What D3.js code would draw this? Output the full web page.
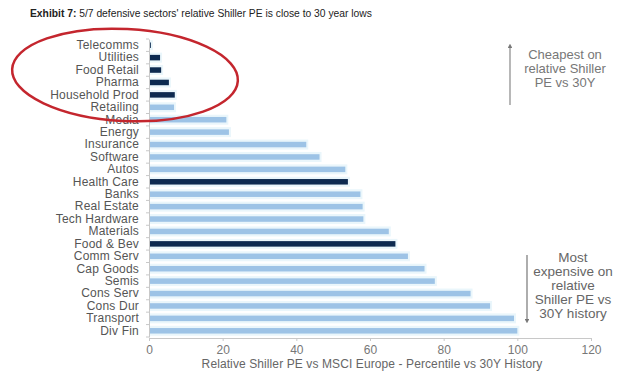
<!DOCTYPE html>
<html>
<head>
<meta charset="utf-8">
<script src="https://cdn.jsdelivr.net/npm/d3@7"></script>
<style>
  body { margin: 0; background: #fff; }
  svg { display: block; font-family: "Liberation Sans", Arial, sans-serif; }
</style>
</head>
<body>
<div id="chart"></div>
<script>
// sectors, top (cheapest) to bottom (most expensive)
const sectors = ["Telecomms", "Utilities", "Food Retail", "Pharma", "Household Prod", "Retailing",
  "Media", "Energy", "Insurance", "Software", "Autos", "Health Care", "Banks", "Real Estate",
  "Tech Hardware", "Materials", "Food & Bev", "Comm Serv", "Cap Goods", "Semis", "Cons Serv",
  "Cons Dur", "Transport", "Div Fin"];
const percentile = [0.5, 3.0, 3.3, 5.4, 7.0, 6.8, 21.0, 21.7, 42.7, 46.3, 53.3, 54.0, 57.4, 58.0,
  58.2, 65.1, 66.9, 70.3, 74.8, 77.6, 87.3, 92.6, 99.1, 100];
const defensive = ["Telecomms", "Utilities", "Food Retail", "Pharma", "Household Prod", "Health Care", "Food & Bev"];
const xTicks = [0, 20, 40, 60, 80, 100, 120];

const data = sectors.map((s, i) => ({ sector: s, value: percentile[i] }));

const width = 623, height = 371;
const svg = d3.select("#chart").append("svg")
  .attr("width", width)
  .attr("height", height);

// scales
const x = d3.scaleLinear().domain([0, 120]).range([149, 591]);
const y = d3.scaleBand().domain(sectors).range([39, 337]);

// title
const title = svg.append("text")
  .attr("x", 30)
  .attr("y", 17)
  .style("font-size", "10.3px")
  .style("fill", "#222");
title.append("tspan").style("font-weight", "bold").text("Exhibit 7: ");
title.append("tspan").text(" 5/7 defensive sectors' relative Shiller PE is close to 30 year lows");

// pale halo behind the bars
svg.selectAll(".halo")
  .data(data)
  .enter()
  .append("rect")
  .attr("class", "halo")
  .attr("x", x(0))
  .attr("y", d => y(d.sector) + y.bandwidth() / 2 - 5)
  .attr("width", d => x(d.value) - x(0) + 2)
  .attr("height", 10)
  .attr("fill", "#eaf6fb");

// bars
svg.selectAll(".bar")
  .data(data)
  .enter()
  .append("rect")
  .attr("class", "bar")
  .attr("x", x(0))
  .attr("y", d => y(d.sector) + y.bandwidth() / 2 - 2.75)
  .attr("width", d => x(d.value) - x(0))
  .attr("height", 5.5)
  .attr("fill", d => defensive.includes(d.sector) ? "#0d2a50" : "#9dc3e6");

// y axis
const yAxis = svg.append("g")
  .attr("transform", `translate(${x(0)},0)`)
  .call(d3.axisLeft(y).tickSize(0).tickPadding(10));
yAxis.select(".domain").attr("stroke", "#c8c8c8");
yAxis.selectAll("text")
  .style("font-size", "12px")
  .style("letter-spacing", "0.2px")
  .style("fill", "#555")
  .style("font-family", "'Liberation Sans', Arial, sans-serif");
// small tick marks between categories
svg.selectAll(".ytick")
  .data(sectors.concat(["end"]))
  .enter()
  .append("line")
  .attr("x1", x(0) - 3)
  .attr("x2", x(0))
  .attr("y1", (d, i) => y.range()[0] + i * y.step())
  .attr("y2", (d, i) => y.range()[0] + i * y.step())
  .attr("stroke", "#c8c8c8");

// x axis
const xAxis = svg.append("g")
  .attr("transform", "translate(0,338)")
  .call(d3.axisBottom(x).tickValues(xTicks).tickSize(3).tickSizeOuter(0).tickPadding(4));
xAxis.select(".domain").attr("stroke", "#c8c8c8");
xAxis.selectAll(".tick line").attr("stroke", "#c8c8c8");
xAxis.selectAll("text")
  .style("font-size", "12px")
  .style("fill", "#777")
  .style("font-family", "'Liberation Sans', Arial, sans-serif");

svg.append("text")
  .attr("x", 372)
  .attr("y", 368)
  .attr("text-anchor", "middle")
  .style("font-size", "12px")
  .style("letter-spacing", "0.1px")
  .style("fill", "#666")
  .text("Relative Shiller PE vs MSCI Europe - Percentile vs 30Y History");

// annotations
const defs = svg.append("defs");
defs.append("marker")
  .attr("id", "arrow")
  .attr("viewBox", "0 0 10 10")
  .attr("refX", 5).attr("refY", 5)
  .attr("markerWidth", 4).attr("markerHeight", 4)
  .attr("orient", "auto-start-reverse")
  .append("path")
  .attr("d", "M0,0 L10,5 L0,10 z")
  .attr("fill", "#777");

svg.append("line")
  .attr("x1", 510).attr("x2", 510)
  .attr("y1", 105).attr("y2", 46)
  .attr("stroke", "#888").attr("stroke-width", 1.2)
  .attr("marker-end", "url(#arrow)");

svg.append("text")
  .attr("text-anchor", "middle")
  .style("font-size", "13px")
  .style("fill", "#777")
  .selectAll("tspan")
  .data(["Cheapest on", "relative Shiller", "PE vs 30Y"])
  .enter()
  .append("tspan")
  .attr("x", 565)
  .attr("y", (d, i) => 59 + i * 14)
  .text(d => d);

svg.append("line")
  .attr("x1", 527).attr("x2", 527)
  .attr("y1", 255).attr("y2", 321)
  .attr("stroke", "#777").attr("stroke-width", 1.2)
  .attr("marker-end", "url(#arrow)");

svg.append("text")
  .attr("text-anchor", "middle")
  .style("font-size", "13.5px")
  .style("fill", "#666")
  .selectAll("tspan")
  .data(["Most", "expensive on", "relative", "Shiller PE vs", "30Y history"])
  .enter()
  .append("tspan")
  .attr("x", 573)
  .attr("y", (d, i) => 262 + i * 14)
  .text(d => d);

// red ellipse around the defensive names at the top
svg.append("ellipse")
  .attr("cx", 125).attr("cy", 75)
  .attr("rx", 113).attr("ry", 46)
  .attr("transform", "rotate(3,125,75)")
  .attr("fill", "none")
  .attr("stroke", "#c4262e")
  .attr("stroke-width", 2.5);
</script>
</body>
</html>
